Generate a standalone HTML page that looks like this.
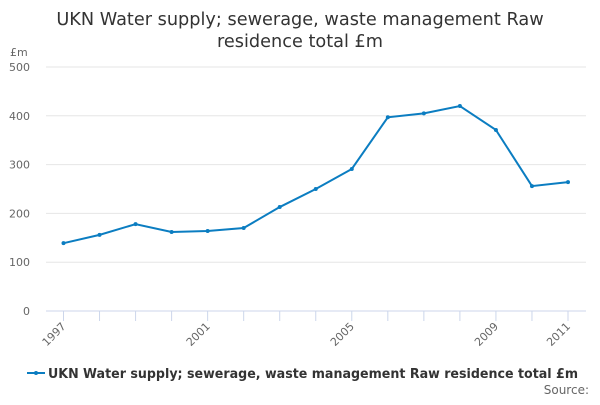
<!DOCTYPE html>
<html><head><meta charset="utf-8"><style>
body{margin:0;background:#fff;font-family:"Liberation Sans","DejaVu Sans",sans-serif}
svg text{font-family:"DejaVu Sans","Liberation Sans",sans-serif}
</style></head><body>
<svg id="c" width="600" height="400">
<text x="300" y="25" text-anchor="middle" font-size="17.7" fill="#333">UKN Water supply; sewerage, waste management Raw</text>
<text x="300" y="47" text-anchor="middle" font-size="17.7" fill="#333">residence total £m</text>
<text x="10" y="56" font-size="11" fill="#666">£m</text>
<g id="g"></g>
<line x1="27" y1="373" x2="45" y2="373" stroke="#0b7dc1" stroke-width="2"/>
<circle cx="36" cy="373" r="2" fill="#0b7dc1"/>
<text x="48" y="378" font-size="13" font-weight="bold" fill="#333" textLength="530" lengthAdjust="spacingAndGlyphs">UKN Water supply; sewerage, waste management Raw residence total £m</text>
<text x="589" y="394" text-anchor="end" font-size="12" fill="#666">Source:</text>
</svg>
<script>
const years=[1997,1998,1999,2000,2001,2002,2003,2004,2005,2006,2007,2008,2009,2010,2011];
const values=[139,156,178,162,164,170,213,250,291,397,405,420,371,256,264];
const yTicks=[0,100,200,300,400,500];
const xLabels=[1997,2001,2005,2009,2011];
const NS="http://www.w3.org/2000/svg",g=document.getElementById('g');
const x=y=>63.5+(y-1997)*(568-63.5)/14;
const yS=v=>311-v*(311-67)/500;
function mk(t,a){const e=document.createElementNS(NS,t);for(const k in a)e.setAttribute(k,a[k]);g.appendChild(e);return e;}
yTicks.forEach(t=>{
 const l=mk('line',{x1:46,x2:586,y1:yS(t),y2:yS(t),stroke:t?'#e6e6e6':'#ccd6eb'});
 
 
 const tx=mk('text',{x:30,y:yS(t)+4,'text-anchor':'end','font-size':11,fill:'#666'});tx.textContent=t;
 
 
});
years.forEach(yr=>{
 const l=mk('line',{x1:x(yr),x2:x(yr),y1:311,y2:321,stroke:'#ccd6eb'});
 
 
});
xLabels.forEach(yr=>{
 const tx=mk('text',{x:x(yr)+3,y:327,'text-anchor':'end','font-size':11,fill:'#666',transform:`rotate(-45 ${x(yr)+3} 327)`});tx.textContent=yr;
 
 
});
const p=mk('polyline',{points:years.map((yr,i)=>x(yr)+','+yS(values[i])).join(' '),fill:'none',stroke:'#0b7dc1','stroke-width':2});


years.forEach((yr,i)=>{
 const c=mk('circle',{cx:x(yr),cy:yS(values[i]),r:2,fill:'#0b7dc1'});
 
 
});
</script>
</body></html>
